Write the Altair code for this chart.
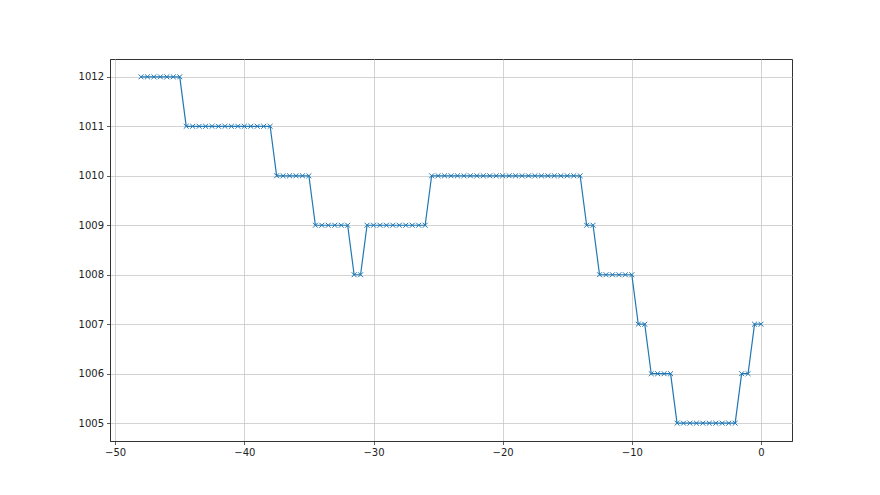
import altair as alt
import pandas as pd

x_vals = [-48.0, -47.5, -47.0, -46.5, -46.0, -45.5, -45.0,
          -44.5, -44.0, -43.5, -43.0, -42.5, -42.0, -41.5, -41.0, -40.5, -40.0, -39.5, -39.0, -38.5, -38.0,
          -37.5, -37.0, -36.5, -36.0, -35.5, -35.0,
          -34.5, -34.0, -33.5, -33.0, -32.5, -32.0,
          -31.5, -31.0,
          -30.5, -30.0, -29.5, -29.0, -28.5, -28.0, -27.5, -27.0, -26.5, -26.0,
          -25.5, -25.0, -24.5, -24.0, -23.5, -23.0, -22.5, -22.0, -21.5, -21.0, -20.5, -20.0,
          -19.5, -19.0, -18.5, -18.0, -17.5, -17.0, -16.5, -16.0, -15.5, -15.0, -14.5, -14.0,
          -13.5, -13.0,
          -12.5, -12.0, -11.5, -11.0, -10.5, -10.0,
          -9.5, -9.0,
          -8.5, -8.0, -7.5, -7.0,
          -6.5, -6.0, -5.5, -5.0, -4.5, -4.0, -3.5, -3.0, -2.5, -2.0,
          -1.5, -1.0,
          -0.5, 0.0]

pressure = [1012] * 7 + [1011] * 14 + [1010] * 6 + [1009] * 6 + [1008] * 2 + \
           [1009] * 10 + [1010] * 24 + [1009] * 2 + [1008] * 6 + [1007] * 2 + \
           [1006] * 4 + [1005] * 10 + [1006] * 2 + [1007] * 2

x_ticks = [-50, -40, -30, -20, -10, 0]
y_ticks = [1005, 1006, 1007, 1008, 1009, 1010, 1011, 1012]

df = pd.DataFrame({"x": x_vals, "y": pressure})

color = "#1f77b4"
label_expr = "replace(format(datum.value, 'd'), '-', '\u2212')"

xenc = alt.X("x:Q", scale=alt.Scale(domain=[-50.4, 2.4], nice=False, zero=False),
             axis=alt.Axis(values=x_ticks, title=None, labelExpr=label_expr))
yenc = alt.Y("y:Q", scale=alt.Scale(domain=[1004.64, 1012.36], nice=False, zero=False),
             axis=alt.Axis(values=y_ticks, title=None, labelExpr=label_expr))

base = alt.Chart(df).encode(x=xenc, y=yenc)
line = base.mark_line(color=color, strokeWidth=1.2)
pts = base.mark_point(shape="M-1,-1L1,1M1,-1L-1,1", filled=False, color=color,
                      size=24, strokeWidth=1, opacity=1)

chart = (line + pts).properties(
    width=682, height=382,
    autosize=alt.AutoSizeParams(type="none"),
    padding={"left": 102, "top": 51, "right": 80, "bottom": 46},
).configure_view(stroke="#333333", strokeWidth=1).configure_axis(
    grid=True, gridColor="#c8c8c8", gridWidth=0.8,
    domainColor="#333333", domainWidth=1,
    tickColor="#333333", tickSize=3.5, tickWidth=0.8,
    labelFont="DejaVu Sans", labelFontSize=10, labelColor="#222222", labelPadding=3,
)

chart.save("out.html", embed_options={"renderer": "svg", "actions": False})
